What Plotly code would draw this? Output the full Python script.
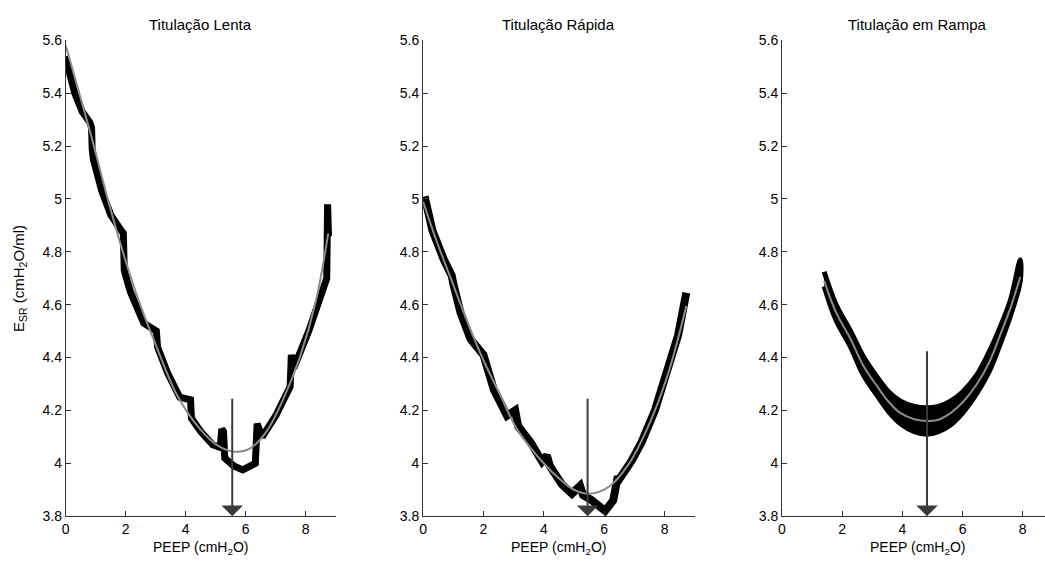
import plotly.graph_objects as go

# ---------------- data ----------------
titles = ["Titulação Lenta", "Titulação Rápida", "Titulação em Rampa"]
x_ticks = [0, 2, 4, 6, 8]
y_ticks = [3.8, 4.0, 4.2, 4.4, 4.6, 4.8, 5.0, 5.2, 5.4, 5.6]
y_ticktext = ["3.8", "4", "4.2", "4.4", "4.6", "4.8", "5", "5.2", "5.4", "5.6"]

# Panel 1 - slow titration (measured, black)
p1_x = [0.0, 0.05, 0.3, 0.55, 0.8, 0.86, 0.88, 0.92, 1.2, 1.5, 1.85, 1.92, 1.95, 2.15, 2.6,
        2.95, 3.02, 3.06, 3.4, 3.8, 4.1, 4.16, 4.19, 4.5, 4.9, 5.15, 5.2, 5.26, 5.3, 5.6,
        5.9, 6.25, 6.32, 6.38, 6.45, 6.55, 7.0, 7.42, 7.48, 7.52, 7.6, 8.1, 8.6, 8.7, 8.73, 8.76]
p1_y = [5.54, 5.51, 5.40, 5.33, 5.29, 5.27, 5.19, 5.15, 5.03, 4.94, 4.88, 4.87, 4.73, 4.65, 4.53,
        4.51, 4.50, 4.44, 4.34, 4.25, 4.245, 4.24, 4.17, 4.12, 4.07, 4.06, 4.13, 4.12, 4.02, 3.99,
        3.975, 3.99, 4.0, 4.15, 4.13, 4.10, 4.18, 4.27, 4.29, 4.41, 4.36, 4.50, 4.67, 4.70, 4.98, 4.86]
# Panel 1 fit (grey)
g1_x = [0.0, 0.5, 0.87, 1.4, 1.93, 2.48, 3.03, 3.7, 4.47, 5.03, 5.58, 6.14, 6.69, 7.24, 7.8, 8.35, 8.75]
g1_y = [5.58, 5.38, 5.23, 5.00, 4.79, 4.60, 4.44, 4.26, 4.13, 4.07, 4.045, 4.056, 4.12, 4.24, 4.40, 4.62, 4.87]

# Panel 2 - fast titration
p2_x = [0.05, 0.1, 0.31, 0.69, 0.95, 1.0, 1.24, 1.57, 1.9, 2.0, 2.34, 2.78, 3.05, 3.15, 3.56,
        3.94, 4.1, 4.2, 4.6, 4.93, 5.2, 5.3, 5.59, 6.03, 6.3, 6.45, 6.5, 6.91, 7.24, 7.68,
        8.12, 8.45, 8.72]
p2_y = [5.01, 4.99, 4.88, 4.77, 4.71, 4.68, 4.57, 4.47, 4.43, 4.41, 4.28, 4.18, 4.20, 4.14, 4.08,
        4.007, 4.03, 3.99, 3.92, 3.885, 3.915, 3.88, 3.86, 3.82, 3.86, 3.95, 3.94, 4.01, 4.08, 4.20,
        4.35, 4.485, 4.645]
g2_x = [0.0, 0.45, 0.9, 1.45, 2.0, 2.55, 3.11, 3.94, 4.6, 5.0, 5.48, 6.14, 6.8, 7.46, 8.12, 8.72]
g2_y = [4.99, 4.84, 4.705, 4.54, 4.39, 4.26, 4.13, 4.007, 3.933, 3.90, 3.885, 3.91, 3.995, 4.14, 4.34, 4.595]

# Panel 3 - ramp titration (band of measured data + grey fit)
p3_x = [1.4, 1.8, 2.28, 2.7, 3.17, 3.55, 3.94, 4.4, 4.82, 5.2, 5.6, 6.0, 6.48, 6.9, 7.25, 7.6, 7.92]
p3_upper = [4.725, 4.60, 4.50, 4.405, 4.325, 4.27, 4.235, 4.215, 4.21, 4.215, 4.235, 4.27, 4.335, 4.425, 4.515, 4.62, 4.77]
p3_lower = [4.67, 4.54, 4.44, 4.335, 4.255, 4.195, 4.15, 4.12, 4.11, 4.12, 4.145, 4.19, 4.265, 4.35, 4.45, 4.56, 4.69]
g3_y = [4.69, 4.57, 4.47, 4.37, 4.29, 4.232, 4.19, 4.167, 4.16, 4.165, 4.19, 4.23, 4.30, 4.385, 4.485, 4.59, 4.705]

# Arrows marking the minimum
arrow_x = [5.55, 5.45, 4.82]
arrow_top = [4.25, 4.25, 4.43]

# ---------------- figure ----------------
W, H = 1045, 565
FONT = "Liberation Sans, Arial, sans-serif"
AX = "#333333"
BLACK = "#000000"
GREY = "#8c8c8c"

fig = go.Figure()

fig.add_trace(go.Scatter(x=p1_x, y=p1_y, mode="lines", line=dict(color=BLACK, width=7),
                         xaxis="x", yaxis="y", hoverinfo="skip"))
fig.add_trace(go.Scatter(x=g1_x, y=g1_y, mode="lines", line=dict(color=GREY, width=2, shape="spline"),
                         xaxis="x", yaxis="y", hoverinfo="skip"))

fig.add_trace(go.Scatter(x=p2_x, y=p2_y, mode="lines", line=dict(color=BLACK, width=8),
                         xaxis="x2", yaxis="y2", hoverinfo="skip"))
fig.add_trace(go.Scatter(x=g2_x, y=g2_y, mode="lines", line=dict(color=GREY, width=2, shape="spline"),
                         xaxis="x2", yaxis="y2", hoverinfo="skip"))

fig.add_trace(go.Scatter(x=p3_x + p3_x[::-1], y=p3_upper + p3_lower[::-1], mode="lines",
                         fill="toself", fillcolor=BLACK, line=dict(color=BLACK, width=5, shape="spline"),
                         xaxis="x3", yaxis="y3", hoverinfo="skip"))
fig.add_trace(go.Scatter(x=p3_x, y=g3_y, mode="lines", line=dict(color=GREY, width=2, shape="spline"),
                         xaxis="x3", yaxis="y3", hoverinfo="skip"))

# pixel layout
y_dom = [1 - 523 / H, 1 - 33.3 / H]
x_doms = [[62 / W, 333 / W], [420.7 / W, 693.4 / W], [781 / W, 1.0]]
x_ranges = [[0, 9], [0, 9], [0, (1045 - 781) / 30.2]]

axis_common = dict(showline=True, linecolor=AX, linewidth=1, ticks="inside", ticklen=5,
                   tickcolor=AX, tickwidth=1, showgrid=False, zeroline=False,
                   tickfont=dict(family=FONT, size=14, color="black"), fixedrange=True)

layout = dict(width=W, height=H, margin=dict(l=0, r=0, t=0, b=0),
              paper_bgcolor="white", plot_bgcolor="white", showlegend=False,
              font=dict(family=FONT, size=14, color="black"))
for i in range(3):
    sx = "" if i == 0 else str(i + 1)
    layout["xaxis" + sx] = dict(domain=x_doms[i], range=x_ranges[i], anchor="y" + sx,
                                tickvals=x_ticks, **axis_common)
    layout["yaxis" + sx] = dict(domain=y_dom, range=[3.8, 5.6], anchor="x" + sx,
                                tickvals=y_ticks, ticktext=y_ticktext, **axis_common)
fig.update_layout(**layout)

ann = []
for i in range(3):
    sx = "" if i == 0 else str(i + 1)
    ann.append(dict(text=titles[i], xref="x" + sx, x=4.5, yref="paper", y=1 - 17 / H,
                    showarrow=False, xanchor="center", yanchor="middle",
                    font=dict(family=FONT, size=15, color="black")))
    ann.append(dict(text="PEEP (cmH<sub>2</sub>O)", xref="x" + sx, x=4.5, yref="paper",
                    y=1 - 544 / H, showarrow=False, xanchor="center", yanchor="top",
                    font=dict(family=FONT, size=14, color="black")))
    ann.append(dict(text="", xref="x" + sx, yref="y" + sx, x=arrow_x[i], y=3.8,
                    axref="x" + sx, ayref="y" + sx, ax=arrow_x[i], ay=arrow_top[i],
                    showarrow=True, arrowhead=1, arrowsize=1.8, arrowwidth=2,
                    arrowcolor="#3a3a3a", standoff=0))
ann.append(dict(text="E<sub>SR</sub> (cmH<sub>2</sub>O/ml)", xref="paper", x=15 / W,
                yref="paper", y=1 - 278 / H, textangle=-90, showarrow=False,
                xanchor="center", yanchor="middle", font=dict(family=FONT, size=15, color="black")))
fig.update_layout(annotations=ann)

fig.write_html("out.html")
